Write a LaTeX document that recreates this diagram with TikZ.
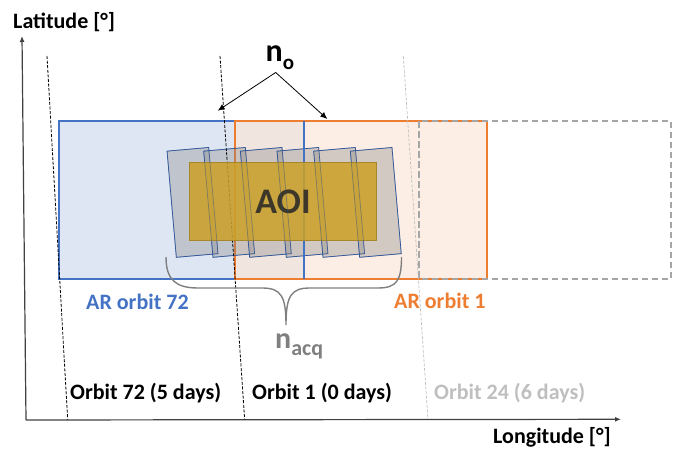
\documentclass[tikz,border=0pt]{standalone}
\usepackage{fontspec}
\setmainfont{Carlito}
\usetikzlibrary{arrows.meta}
\definecolor{arblue}{HTML}{4472C4}
\definecolor{arbluefill}{HTML}{DFE6F3}
\definecolor{arorange}{HTML}{ED7D31}
\definecolor{arorangefill}{HTML}{FBE5D6}
\definecolor{ghost}{HTML}{A6A6A6}
\definecolor{aoigold}{HTML}{CCA128}
\definecolor{aoiedge}{HTML}{A8872A}
\definecolor{swathedge}{HTML}{2F5597}
\definecolor{lightorbit}{HTML}{BFBFBF}
\definecolor{axisgray}{HTML}{404040}
\definecolor{bracegray}{HTML}{7F7F7F}
\definecolor{aoitext}{HTML}{262626}
\begin{document}
\begin{tikzpicture}[x=1pt,y=-1pt,
  lbl/.style={font=\fontsize{22}{26}\selectfont\bfseries, inner sep=0pt, anchor=base west},
  swathfill/.style={rectangle, rotate=5, minimum width=41.8pt, minimum height=106.6pt, inner sep=0pt,
     fill=black!50, fill opacity=0.33, draw=swathedge, line width=0.7pt},
  swathline/.style={rectangle, rotate=5, minimum width=41.8pt, minimum height=106.6pt, inner sep=0pt,
     draw=swathedge, draw opacity=0.4, line width=0.7pt},
  orbitline/.style={line width=0.8pt, dash pattern=on 3pt off 1.6pt},
  axisline/.style={axisgray, line width=1.2pt, -{Latex[length=6pt,width=5pt]}},
  pointer/.style={black, line width=0.8pt, -{Latex[length=7pt,width=6pt]}}]
\useasboundingbox (0,0) rectangle (673,449);

% acquisition-region boxes
\fill[arbluefill] (59,121.5) rectangle (304,279);
\fill[arorangefill, fill opacity=0.65] (235,121.5) rectangle (487,279);
\draw[arblue, line width=2pt] (59,121.5) rectangle (304,279);
\draw[arorange, line width=2pt] (235,121.5) rectangle (487,279);
\draw[ghost, line width=2pt, dash pattern=on 6.5pt off 3.5pt] (419,121.5) rectangle (671,279);

% swaths
\foreach \i in {0,...,5}{
  \node[swathfill] (s\i) at ({192.5+36.66*\i},202.4) {};
}
\draw[arblue, line width=2pt] (304,121.5) -- (304,279);

% orbit ground tracks
\coordinate (oAt) at (47,56);   \coordinate (oAb) at (67.7,420);
\coordinate (oBt) at (220,56);  \coordinate (oBb) at (244.7,420);
\coordinate (oCt) at (403.3,56);\coordinate (oCb) at (428,420);
\draw[orbitline, black] (oAt) -- (oAb);
\draw[orbitline, black] (oBt) -- (oBb);
\draw[orbitline, lightorbit, line width=0.7pt] (oCt) -- (oCb);

% AOI
\node[rectangle, minimum width=187.4pt, minimum height=78pt, inner sep=0pt,
      fill=aoigold, fill opacity=0.86, draw=aoiedge, line width=0.8pt,
      text=aoitext, font=\fontsize{36}{42}\selectfont\bfseries] (aoi) at (283,201.7) {AOI};
\foreach \i in {0,...,5}{
  \node[swathline] (t\i) at ({192.5+36.66*\i},202.4) {};
}

% axes
\coordinate (origin) at (26,420);
\coordinate (ytip) at (22,36);
\coordinate (xtip) at (621,419.3);
\draw[axisline] (origin) -- (ytip);
\draw[axisline] (origin) -- (xtip);

% n_o pointers
\node[inner sep=0pt, anchor=base west] (no) at (265.5,61.7)
  {\fontsize{32}{36}\selectfont\bfseries n\raisebox{-8pt}{\fontsize{21}{24}\selectfont o}};
\coordinate (apex) at (275.7,72.5);
\coordinate (tipL) at (217.7,110.7);
\coordinate (tipR) at (327.3,119);
\draw[pointer] (apex) -- (tipL);
\draw[pointer] (apex) -- (tipR);

% brace and n_acq
\coordinate (brL) at (166,257);
\coordinate (brM) at (286,325);
\coordinate (brR) at (401.5,257);
\draw[bracegray, line width=1.4pt]
  (brL) .. controls (166,280) and (176,288) .. (198,288) -- (262,288)
  .. controls (281,288) and (286,296) .. (brM)
  .. controls (286,296) and (291,288) .. (310,288) -- (378,288)
  .. controls (397,288) and (401.5,280) .. (brR);
\node[inner sep=0pt, anchor=base west, text=bracegray] (nacq) at (275,349)
  {\fontsize{30}{34}\selectfont\bfseries n\raisebox{-7pt}{\fontsize{22}{26}\selectfont acq}};

% labels
\node[lbl, text=arblue] (ar72) at (86,309.3) {AR orbit 72};
\node[lbl, text=arorange] (ar1) at (394,309) {AR orbit 1};
\node[lbl] (o72) at (70,399.3) {Orbit 72 (5 days)};
\node[lbl] (o1) at (252,399.3) {Orbit 1 (0 days)};
\node[lbl, text=lightorbit] (o24) at (434,399.3) {Orbit 24 (6 days)};
\node[lbl] (lat) at (13,28.5) {Latitude [°]};
\node[lbl] (lon) at (493,443) {Longitude [°]};
\end{tikzpicture}
\end{document}
